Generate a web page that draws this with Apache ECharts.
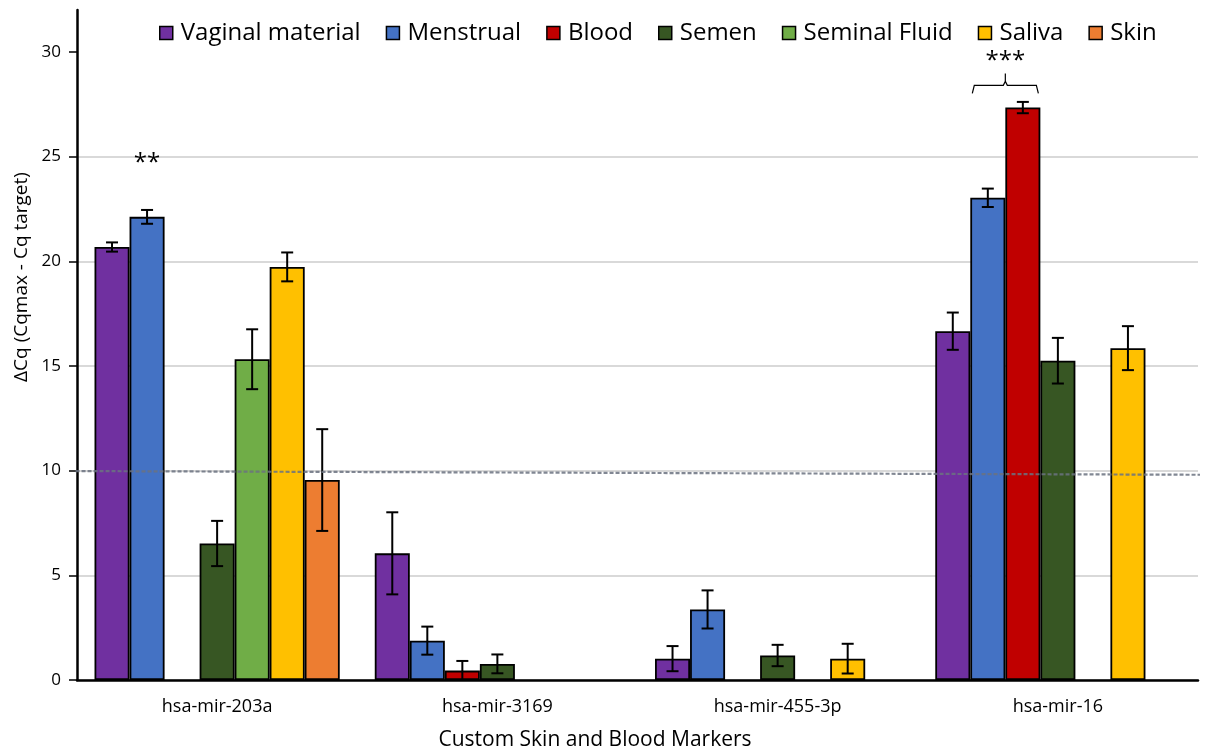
<!DOCTYPE html>
<html>
<head>
<meta charset="utf-8">
<script src="https://cdn.jsdelivr.net/npm/echarts@6/dist/echarts.min.js"></script>
<style>
  html, body { margin: 0; padding: 0; background: #fff; }
  #chart { width: 1209px; height: 751px; }
</style>
</head>
<body>
<div id="chart"></div>
<script>
  // Categories and series.
  var CATEGORIES = ["hsa-mir-203a", "hsa-mir-3169", "hsa-mir-455-3p", "hsa-mir-16"];
  var SERIES_NAMES = ["Vaginal material", "Menstrual", "Blood", "Semen", "Seminal Fluid", "Saliva", "Skin"];
  var COLORS = ["#7030a0", "#4472c4", "#c00000", "#375623", "#70ad47", "#ffc000", "#ed7d31"];

  var vaginal = [20.68, 6.05, 1.02, 16.66];
  var menstrual = [22.12, 1.88, 3.37, 23.03];
  var blood = [null, 0.45, null, 27.34];
  var semen = [6.52, 0.77, 1.17, 15.25];
  var seminalFluid = [15.32, null, null, null];
  var saliva = [19.73, null, 1.02, 15.85];
  var skin = [9.55, null, null, null];

  // Error bar half-widths (same order).
  var vaginalErr = [0.22, 1.96, 0.6, 0.89];
  var menstrualErr = [0.33, 0.67, 0.91, 0.44];
  var bloodErr = [null, 0.46, null, 0.27];
  var semenErr = [1.08, 0.45, 0.51, 1.09];
  var seminalFluidErr = [1.43, null, null, null];
  var salivaErr = [0.69, null, 0.71, 1.05];
  var skinErr = [2.43, null, null, null];

  var Y_TICKS = [0, 5, 10, 15, 20, 25, 30];
  // Threshold line (dashed), drawn slightly sloped as in the figure.
  var threshold = [[-0.012, 9.98], [1.012, 9.8]];

  var VALUES = [vaginal, menstrual, blood, semen, seminalFluid, saliva, skin];
  var ERRORS = [vaginalErr, menstrualErr, bloodErr, semenErr, seminalFluidErr, salivaErr, skinErr];

  var FONT = "'Open Sans', 'Noto Sans', sans-serif";
  var CAT_GAP = 0.125;
  var N = SERIES_NAMES.length;

  var chart = echarts.init(document.getElementById("chart"), null, { renderer: "canvas" });

  function errorSeries(idx) {
    var data = [];
    VALUES[idx].forEach(function (v, i) {
      if (v != null && ERRORS[idx][i] != null) data.push([i, v, ERRORS[idx][i]]);
    });
    return {
      type: "custom",
      name: SERIES_NAMES[idx] + " err",
      z: 5,
      silent: true,
      data: data,
      encode: { x: 0, y: 1 },
      renderItem: function (params, api) {
        var cat = api.value(0), v = api.value(1), e = api.value(2);
        var catW = api.size([1, 0])[0];
        var barW = catW * (1 - CAT_GAP) / N;
        var c = api.coord([cat, v]);
        var x = c[0] + (idx - (N - 1) / 2) * barW;
        var top = api.coord([cat, v + e])[1];
        var bot = api.coord([cat, Math.max(v - e, 0)])[1];
        var hw = 6;
        var style = { stroke: "#000", lineWidth: 2 };
        return {
          type: "group",
          children: [
            { type: "line", shape: { x1: x, y1: top, x2: x, y2: bot }, style: style },
            { type: "line", shape: { x1: x - hw, y1: top, x2: x + hw, y2: top }, style: style },
            { type: "line", shape: { x1: x - hw, y1: bot, x2: x + hw, y2: bot }, style: style }
          ]
        };
      }
    };
  }

  var series = SERIES_NAMES.map(function (name, idx) {
    return {
      name: name,
      type: "bar",
      data: VALUES[idx],
      barGap: "0%",
      barCategoryGap: (CAT_GAP * 100) + "%",
      itemStyle: { color: COLORS[idx], borderColor: "#000", borderWidth: 1.8 },
      emphasis: { disabled: true }
    };
  });
  SERIES_NAMES.forEach(function (n, idx) { series.push(errorSeries(idx)); });
  series.push({
    type: "line",
    name: "threshold",
    xAxisIndex: 1,
    data: threshold,
    symbol: "none",
    silent: true,
    clip: false,
    z: 6,
    lineStyle: { color: "#6b7280", width: 2.2, type: [4, 2], opacity: 0.85 }
  });

  var option = {
    animation: false,
    textStyle: { fontFamily: FONT, color: "#000" },
    grid: { left: 77, right: 11, top: 10, bottom: 71 },
    legend: {
      data: SERIES_NAMES,
      top: 16,
      left: 154,
      itemWidth: 13,
      itemHeight: 13,
      itemGap: 25,
      icon: "rect",
      itemStyle: { borderColor: "#000", borderWidth: 1.5 },
      textStyle: { fontSize: 24, color: "#000", fontFamily: FONT, padding: [0, 0, 0, 3] },
      selectedMode: false
    },
    xAxis: [{
      type: "category",
      data: CATEGORIES,
      axisLine: { lineStyle: { color: "#000", width: 2.5 } },
      axisTick: { alignWithLabel: true, length: 6, lineStyle: { color: "#000", width: 1.5 } },
      axisLabel: { fontSize: 18, color: "#000", margin: 18 }
    }, {
      type: "value",
      min: 0,
      max: 1,
      show: false
    }],
    yAxis: {
      type: "value",
      min: 0,
      max: 32,
      interval: 5,
      axisLine: { show: true, lineStyle: { color: "#000", width: 2.5 } },
      axisTick: { show: true, length: 8, customValues: Y_TICKS, lineStyle: { color: "#000", width: 1.5 } },
      axisLabel: { fontSize: 17, color: "#000", margin: 16, customValues: Y_TICKS },
      splitLine: { showMaxLine: false, lineStyle: { color: "#d9d9d9", width: 2 } }
    },
    series: series
  };

  chart.setOption(option);

  // Annotations: axis titles, significance marks and bracket, placed from data coords.
  function p(cat, val) { return chart.convertToPixel({ xAxisIndex: 0, yAxisIndex: 0 }, [cat, val]); }
  var catW = p(1, 0)[0] - p(0, 0)[0];
  var barW = catW * (1 - CAT_GAP) / N;
  function barX(cat, idx) { return p(cat, 0)[0] + (idx - (N - 1) / 2) * barW; }

  var starsA = p(0, 24.7);
  var brLeft = barX(3, 1) - barW / 2 + 2;
  var brRight = barX(3, 2) + barW / 2 - 2;
  var brMid = (brLeft + brRight) / 2;
  var brY = p(3, 28.4)[1];
  var starsB = p(3, 29.55);

  chart.setOption({
    graphic: [
      {
        type: "text", x: 595, y: 740,
        style: { text: "Custom Skin and Blood Markers", font: "21px " + FONT, fill: "#000", align: "center", verticalAlign: "middle" }
      },
      {
        type: "text", x: 22, y: 277, rotation: Math.PI / 2,
        style: { text: "\u0394Cq (Cqmax - Cq target)", font: "19px " + FONT, fill: "#000", align: "center", verticalAlign: "middle" }
      },
      {
        type: "text", x: barX(0, 1), y: starsA[1],
        style: { text: "**", font: "24px " + FONT, fill: "#000", align: "center", verticalAlign: "middle" }
      },
      {
        type: "text", x: brMid, y: starsB[1],
        style: { text: "***", font: "24px " + FONT, fill: "#000", align: "center", verticalAlign: "middle" }
      },
      {
        type: "polyline",
        shape: {
          points: [
            [brLeft, brY + 8], [brLeft + 2, brY], [brMid - 2, brY], [brMid, brY - 4], [brMid, brY - 12],
            [brMid, brY - 4], [brMid + 2, brY], [brRight - 2, brY], [brRight, brY + 8]
          ]
        },
        style: { stroke: "#000", lineWidth: 1.2, fill: null }
      }
    ]
  });
</script>
</body>
</html>
